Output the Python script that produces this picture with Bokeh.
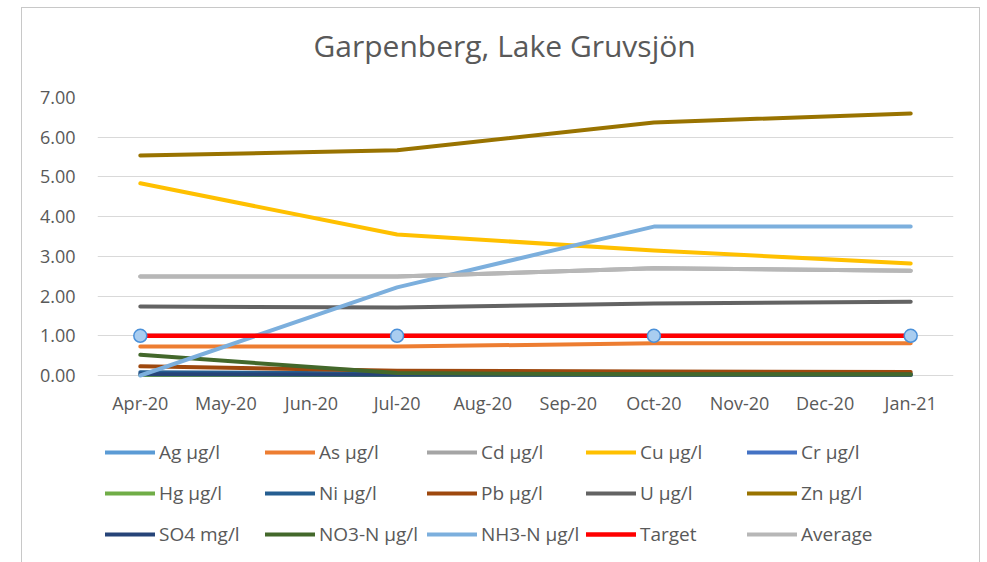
from bokeh.plotting import figure
from bokeh.models import (FactorRange, Range1d, FixedTicker, Legend, LegendItem,
                          NumeralTickFormatter, Title)
from bokeh.embed import file_html
from bokeh.resources import INLINE

# ---------------- data ----------------
months = ["Apr-20", "May-20", "Jun-20", "Jul-20", "Aug-20", "Sep-20",
          "Oct-20", "Nov-20", "Dec-20", "Jan-21"]
sample_months = ["Apr-20", "Jul-20", "Oct-20", "Jan-21"]
y_ticks = [0, 1, 2, 3, 4, 5, 6, 7]

series_names = ["Ag µg/l", "As µg/l", "Cd µg/l", "Cu µg/l", "Cr µg/l",
                "Hg µg/l", "Ni µg/l", "Pb µg/l", "U µg/l", "Zn µg/l",
                "SO4 mg/l", "NO3-N µg/l", "NH3-N µg/l", "Target", "Average"]

ag = [1.00, 1.00, 1.00, 1.00]
as_ = [0.73, 0.73, 0.81, 0.81]
cd = [2.49, 2.49, 2.70, 2.64]
cu = [4.84, 3.55, 3.15, 2.82]
cr = [0.02, 0.01, 0.01, 0.01]
hg = [0.01, 0.01, 0.01, 0.01]
ni = [0.08, 0.05, 0.04, 0.04]
pb = [0.23, 0.12, 0.10, 0.09]
u = [1.74, 1.71, 1.81, 1.86]
zn = [5.54, 5.67, 6.37, 6.60]
so4 = [0.03, 0.02, 0.02, 0.02]
no3n = [0.52, 0.06, 0.03, 0.03]
nh3n = [0.00, 2.22, 3.75, 3.75]
target = [1.00, 1.00, 1.00, 1.00]
average = [2.49, 2.49, 2.70, 2.64]

series_values = [ag, as_, cd, cu, cr, hg, ni, pb, u, zn, so4, no3n, nh3n, target, average]
series_colors = ["#5B9BD5", "#ED7D31", "#A5A5A5", "#FFC000", "#4472C4",
                 "#70AD47", "#255E91", "#9E480E", "#636363", "#997300",
                 "#264478", "#43682B", "#7CAFDD", "#FF0000", "#B7B7B7"]

FONT = "Open Sans"
TXT = "#595959"

# plot area: the value axis (0..7) uses the upper 278 px; the area below
# holds the axis labels and the legend rows
VALUE_PX = 278
FRAME_PX = 467
y_top = 7.0
y_bottom = y_top - FRAME_PX * y_top / VALUE_PX

p = figure(frame_width=856, frame_height=FRAME_PX,
           x_range=FactorRange(factors=months, range_padding=0),
           y_range=Range1d(y_bottom, y_top),
           output_backend="svg", toolbar_location=None,
           min_border_left=75, min_border_right=26,
           min_border_top=89, min_border_bottom=0)
p.margin = (7, 0, 0, 21)
p.styles = {"border": "1px solid #c8c8c8"}
p.outline_line_color = None

# spacer between title and plot area, then the title itself
p.add_layout(Title(text=" ", text_font_size="2px", standoff=28), "above")
p.add_layout(Title(text="Garpenberg, Lake Gruvsjön", align="left", offset=216,
                   text_font=FONT, text_font_size="30px", text_font_style="normal",
                   text_color=TXT, standoff=0), "above")

p.xgrid.visible = False
p.ygrid.grid_line_color = "#D9D9D9"
p.ygrid.grid_line_width = 1
p.yaxis.ticker = FixedTicker(ticks=y_ticks)
p.yaxis.formatter = NumeralTickFormatter(format="0.00")
p.xaxis.fixed_location = 0

for ax in (p.xaxis, p.yaxis):
    ax.axis_line_color = None
    ax.major_tick_line_color = None
    ax.minor_tick_line_color = None
    ax.major_tick_out = 0
    ax.major_tick_in = 0
    ax.minor_tick_out = 0
    ax.major_label_text_font = FONT
    ax.major_label_text_font_size = "18px"
    ax.major_label_text_color = TXT
p.yaxis.major_label_standoff = 22
p.xaxis.major_label_standoff = 15

renderers = []
for name, vals, col in zip(series_names, series_values, series_colors):
    w = 4.5 if name == "Target" else 4
    r = p.line(sample_months, vals, line_color=col, line_width=w, line_cap="round",
               line_join="round")
    renderers.append(r)

# markers of the Ag series, on top
p.scatter(sample_months, ag, marker="circle", size=13,
          fill_color="#A9CDF0", line_color="#4A90D9", line_width=1.5)

# legend: 3 rows x 5 columns, one legend per column
col_x = [8, 168, 330, 489, 650]
for k in range(5):
    items = [LegendItem(label=series_names[i], renderers=[renderers[i]])
             for i in (k, k + 5, k + 10)]
    leg = Legend(items=items, location=(col_x[k], 17),
                 glyph_width=50, glyph_height=26, label_height=26,
                 spacing=15, label_standoff=4, padding=0, margin=0,
                 border_line_color=None, background_fill_alpha=0,
                 label_text_font=FONT, label_text_font_size="19px",
                 label_text_color=TXT)
    p.add_layout(leg, "center")

open("out.html", "w").write(file_html(p, INLINE))
